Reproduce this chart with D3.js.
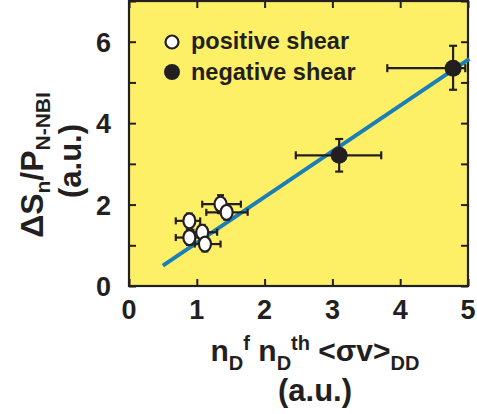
<!DOCTYPE html>
<html>
<head>
<meta charset="utf-8">
<script src="https://cdn.jsdelivr.net/npm/d3@7"></script>
<style>
  body { margin: 0; background: #fff; }
  text { font-family: "Liberation Sans", Arial, sans-serif; font-weight: bold; fill: #231f20; }
</style>
</head>
<body>
<div id="chart"></div>
<script>
// datos
const xTicks = [0, 1, 2, 3, 4, 5];
const yTicks = [0, 1, 2, 3, 4, 5, 6, 7];
const yTickLabels = [0, 2, 4, 6];

// positive shear (circulos abiertos)
const posX   = [0.89, 0.89, 1.08, 1.12, 1.35, 1.44];
const posY   = [1.60, 1.19, 1.32, 1.03, 2.01, 1.81];
const posXLo = [0.69, 0.69, 0.95, 0.97, 1.08, 1.14];
const posXHi = [1.05, 1.10, 1.30, 1.35, 1.65, 1.75];
const posYErr = [0.18, 0.18, 0.18, 0.18, 0.22, 0.18];

// negative shear (circulos llenos)
const negX   = [3.10, 4.78];
const negY   = [3.21, 5.35];
const negXLo = [2.46, 3.81];
const negXHi = [3.72, 4.96];
const negYLo = [2.81, 4.82];
const negYHi = [3.61, 5.90];

// recta de ajuste
const fitX = [0.5, 5.02];
const fitY = [0.5, 5.58];

const legendLabels = ["positive shear", "negative shear"];

const W = 477, H = 414;
const margin = { top: 1, right: 9, bottom: 128, left: 129 };
const width = W - margin.left - margin.right,
      height = H - margin.top - margin.bottom;

const ink = "#231f20";

const svg = d3.select("#chart").append("svg")
  .attr("width", W).attr("height", H);

const g = svg.append("g")
  .attr("transform", `translate(${margin.left},${margin.top})`);

const x = d3.scaleLinear().domain([0, 5]).range([0, width]);
const y = d3.scaleLinear().domain([0, 7]).range([height, 0]);

// fondo
g.append("rect")
  .attr("width", width).attr("height", height)
  .attr("fill", "#fdf066");

// ticks hacia adentro en los cuatro lados
const tickLen = 7;
g.append("g").attr("transform", `translate(0,${height})`)
  .call(d3.axisBottom(x).tickValues(xTicks).tickSize(-tickLen).tickFormat(""));
g.append("g")
  .call(d3.axisTop(x).tickValues(xTicks).tickSize(-tickLen).tickFormat(""));
g.append("g")
  .call(d3.axisLeft(y).tickValues(yTicks).tickSize(-tickLen).tickFormat(""));
g.append("g").attr("transform", `translate(${width},0)`)
  .call(d3.axisRight(y).tickValues(yTicks).tickSize(-tickLen).tickFormat(""));
g.selectAll(".domain").remove();
g.selectAll(".tick line").attr("stroke", ink).attr("stroke-width", 2);

g.append("rect")
  .attr("width", width).attr("height", height)
  .attr("fill", "none").attr("stroke", ink).attr("stroke-width", 2.2);

// etiquetas
g.selectAll(".xl").data(xTicks).enter().append("text")
  .attr("x", d => x(d)).attr("y", height + 33)
  .attr("text-anchor", "middle").attr("font-size", 27)
  .text(d => d);
g.selectAll(".yl").data(yTickLabels).enter().append("text")
  .attr("x", -18).attr("y", d => y(d) + 10)
  .attr("text-anchor", "end").attr("font-size", 27)
  .text(d => d);

// recta
g.append("line")
  .attr("x1", x(fitX[0])).attr("y1", y(fitY[0]))
  .attr("x2", x(fitX[1])).attr("y2", y(fitY[1]))
  .attr("stroke", "#1a7fb8").attr("stroke-width", 4);

// barras de error
function hbar(sel, xs, lo, hi, ys, cap) {
  xs.forEach((_, i) => {
    sel.append("line").attr("x1", x(lo[i])).attr("x2", x(hi[i]))
      .attr("y1", y(ys[i])).attr("y2", y(ys[i]));
    [lo[i], hi[i]].forEach(v => sel.append("line")
      .attr("x1", x(v)).attr("x2", x(v))
      .attr("y1", y(ys[i]) - cap).attr("y2", y(ys[i]) + cap));
  });
}
function vbar(sel, xs, lo, hi, cap) {
  xs.forEach((xv, i) => {
    sel.append("line").attr("x1", x(xv)).attr("x2", x(xv))
      .attr("y1", y(lo[i])).attr("y2", y(hi[i]));
    [lo[i], hi[i]].forEach(v => sel.append("line")
      .attr("x1", x(xv) - cap).attr("x2", x(xv) + cap)
      .attr("y1", y(v)).attr("y2", y(v)));
  });
}

const eb = g.append("g").attr("stroke", ink).attr("stroke-width", 2.2);
hbar(eb, posX, posXLo, posXHi, posY, 3.5);
vbar(eb, posX, posY.map((v, i) => v - posYErr[i]), posY.map((v, i) => v + posYErr[i]), 3.5);
hbar(eb, negX, negXLo, negXHi, negY, 4);
vbar(eb, negX, negYLo, negYHi, 4);

// marcadores
g.selectAll(".pos").data(posX).enter().append("ellipse")
  .attr("cx", d => x(d)).attr("cy", (d, i) => y(posY[i]))
  .attr("rx", 6).attr("ry", 7.5)
  .attr("fill", "#fff").attr("stroke", ink).attr("stroke-width", 2.2);
g.selectAll(".neg").data(negX).enter().append("circle")
  .attr("cx", d => x(d)).attr("cy", (d, i) => y(negY[i]))
  .attr("r", 8.5).attr("fill", ink);

// leyenda
const leg = svg.append("g");
leg.append("circle").attr("cx", 172).attr("cy", 42).attr("r", 6.5)
  .attr("fill", "#fff").attr("stroke", ink).attr("stroke-width", 2.2);
leg.append("circle").attr("cx", 172).attr("cy", 72).attr("r", 8).attr("fill", ink);
leg.selectAll("text").data(legendLabels).enter().append("text")
  .attr("x", 191).attr("y", (d, i) => 49 + i * 31)
  .attr("font-size", 23.5)
  .text(d => d);

// titulo eje x
const xt = svg.append("text").attr("x", 315).attr("y", 361)
  .attr("text-anchor", "middle").attr("font-size", 30);
xt.append("tspan").text("n");
xt.append("tspan").attr("font-size", 20).attr("dy", 9).text("D");
xt.append("tspan").attr("font-size", 20).attr("dy", -20).text("f");
xt.append("tspan").attr("dy", 11).text(" n");
xt.append("tspan").attr("font-size", 20).attr("dy", 9).text("D");
xt.append("tspan").attr("font-size", 20).attr("dy", -20).text("th");
xt.append("tspan").attr("dy", 11).text(" <σv>");
xt.append("tspan").attr("font-size", 20).attr("dy", 9).text("DD");
svg.append("text").attr("x", 315).attr("y", 401)
  .attr("text-anchor", "middle").attr("font-size", 31)
  .text("(a.u.)");

// titulo eje y
const yt = svg.append("text")
  .attr("transform", "translate(43,165) rotate(-90)")
  .attr("text-anchor", "middle").attr("font-size", 32);
yt.append("tspan").text("ΔS");
yt.append("tspan").attr("font-size", 21).attr("dy", 7).text("n");
yt.append("tspan").attr("dy", -7).text("/P");
yt.append("tspan").attr("font-size", 21).attr("dy", 7).text("N-NBI");
svg.append("text")
  .attr("transform", "translate(81,161) rotate(-90)")
  .attr("text-anchor", "middle").attr("font-size", 31)
  .text("(a.u.)");
</script>
</body>
</html>
